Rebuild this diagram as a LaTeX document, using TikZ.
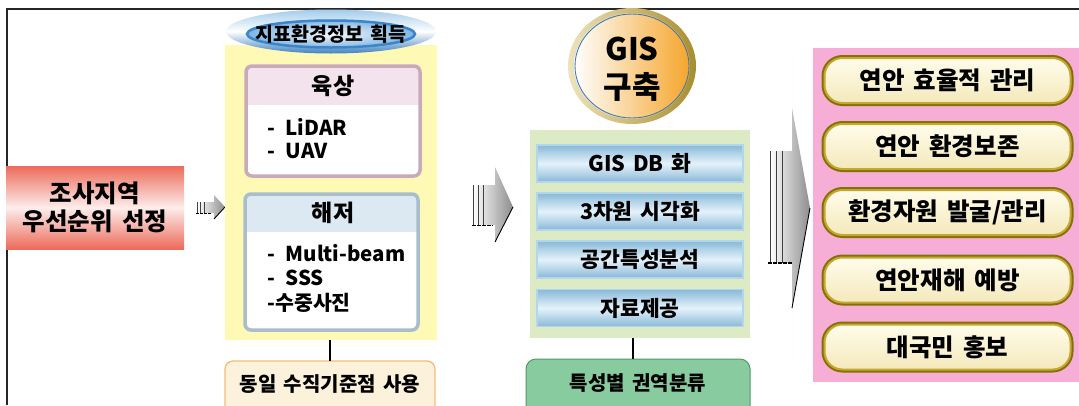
\documentclass[tikz,border=0pt]{standalone}
\usepackage{fontspec}
\setmainfont{Noto Sans CJK KR}[WordSpace=1.6]
\usetikzlibrary{shapes.geometric,calc}
\definecolor{redbox}{HTML}{EC6B5A}
\definecolor{yelpanel}{HTML}{FFF9B6}
\definecolor{pinkhead}{HTML}{F3E3EC}
\definecolor{pinkrim}{HTML}{C9A9BA}
\definecolor{bluehead}{HTML}{DCE9F3}
\definecolor{bluerim}{HTML}{A9BDCB}
\definecolor{creambox}{HTML}{FCF1DA}
\definecolor{orangerim}{HTML}{F3BD78}
\definecolor{greenpanel}{HTML}{DDEBC4}
\definecolor{barblue}{HTML}{88B9D9}
\definecolor{barlight}{HTML}{E6F2FA}
\definecolor{barrim}{HTML}{B3D6EC}
\definecolor{greenbox}{HTML}{87CB9E}
\definecolor{greenrim}{HTML}{4F9A6A}
\definecolor{pinkpanel}{HTML}{F6AED6}
\definecolor{goldrim}{HTML}{C4A832}
\definecolor{golddark}{HTML}{857005}
\definecolor{creamtop}{HTML}{FFFCEA}
\definecolor{creambot}{HTML}{F4E9BC}
\definecolor{goldL}{HTML}{EEE3BC}
\definecolor{goldD}{HTML}{A68E2E}
\definecolor{orangeR}{HTML}{F5A52A}
\definecolor{ringblue}{HTML}{3A78B8}
\definecolor{elltop}{HTML}{A3CCEB}
\definecolor{ellbot}{HTML}{3F82C2}
\definecolor{ellrim}{HTML}{3A86CC}
\definecolor{ellin}{HTML}{F4F9FD}
\definecolor{ellout}{HTML}{7DB3E0}
\begin{document}
\begin{tikzpicture}[x=1pt,y=-1pt,
  bf/.style={font=\bfseries\fontsize{#1}{#1}\selectfont},
  panel/.style={inner sep=0pt, outer sep=0pt},
  barbox/.style={panel, minimum width=206pt, minimum height=37pt,
    top color=barblue, bottom color=barblue, middle color=barlight,
    draw=barrim, line width=1.5pt, bf=21.5},
  pill/.style={panel, rounded corners=18pt, minimum width=246pt, minimum height=45pt,
    top color=creamtop, bottom color=creambot,
    preaction={draw=golddark, line width=6pt},
    draw=goldrim, line width=2pt, bf=24.5},
  link/.style={draw=black, line width=2pt},
  arrbody/.style={left color=white, right color=black!45},
  arredge/.style={draw=black, line width=0.9pt},
  arrline/.style={draw=black!75, line width=0.6pt}
]
\useasboundingbox (0,0) rectangle (1079,405);
\clip (0,0) rectangle (1079,405);
\fill[white] (0,0) rectangle (1079,405);
% outer frame
\draw[line width=1.3pt, black!85] (7,405) -- (7,9) -- (1079,9);

% left start box
\node[panel, minimum width=178pt, minimum height=83pt, top color=redbox, bottom color=redbox,
  middle color=white!88!redbox, align=center, font=\bfseries\fontsize{24.5}{28}\selectfont]
  (start) at (95,207.5) {조사지역\\우선순위 선정};

% arrow 1
\shade[arrbody] (197,202) -- (214,202) -- (214,195) -- (225,207) -- (214,219) -- (214,213) -- (197,213) -- cycle;
\draw[arredge] (225,207) -- (214,219);
\foreach \xx in {197,200.5,204} \draw[arrline] (\xx,202) -- (\xx,213);
\draw[black, line width=1pt, dash pattern=on 3pt off 1pt] (196,213) -- (212,213);

% yellow panel
\node[panel, fill=yelpanel, minimum width=212pt, minimum height=295pt] (yp) at (331,192.5) {};
% top ellipse
\shade[top color=elltop, bottom color=ellbot, middle color=white] (331,31.5) ellipse [x radius=105pt, y radius=22pt];
\shade[inner color=ellin, outer color=ellout] (331,34) ellipse [x radius=85pt, y radius=14.5pt];
\draw[ellrim, line width=2.5pt] (331,34) ellipse [x radius=84pt, y radius=13.5pt];
\node[bf=19.5] (ytitle) at (331,34) {지표환경정보 획득};

% 육상 box
\fill[white] (246,66) rectangle (420,176);
\fill[pinkhead] (246,66) rectangle (420,105);
\draw[pinkrim, line width=3.5pt, rounded corners=6pt] (246,66) rectangle (420,176);
\node[bf=23] (landt) at (333,86) {육상};
\node[bf=20.5, anchor=west] (lidar) at (264,127) {-\hspace{0.5em}LiDAR};
\node[bf=20.5, anchor=west] (uav) at (264,151) {-\hspace{0.5em}UAV};

% 해저 box
\fill[white] (245,194) rectangle (418,330);
\fill[bluehead] (245,194) rectangle (418,232);
\draw[bluerim, line width=3.5pt, rounded corners=6pt] (245,194) rectangle (418,330);
\node[bf=23] (seat) at (333,213) {해저};
\node[bf=20.5, anchor=west] (mb) at (264,253) {-\hspace{0.5em}Multi-beam};
\node[bf=20.5, anchor=west] (sss) at (264,278) {-\hspace{0.5em}SSS};
\node[bf=20.5, anchor=west] (photo) at (264,303) {-수중사진};

% bottom box 1
\node[panel, minimum width=210pt, minimum height=58pt, fill=creambox, draw=orangerim,
  line width=1.3pt, rounded corners=8pt] (vb) at (330,390) {};
\node[bf=20] (vbt) at (330,384) {동일 수직기준점 사용};
\draw[link] (yp.south -| vb.north) -- (vb.north);

% arrow 2
\shade[arrbody] (473,185) -- (495,185) -- (495,167) -- (513,207) -- (495,242) -- (495,225) -- (473,225) -- cycle;
\draw[arredge] (513,207) -- (495,242);
\foreach \xx in {473,478,483} \draw[arrline] (\xx,185) -- (\xx,225);
\draw[black, line width=1pt, dash pattern=on 4pt off 1pt] (472,225) -- (493,225);

% GIS circle
\shade[left color=goldL, right color=goldD] (632,66) ellipse [x radius=64pt, y radius=58pt];
\shade[left color=white, right color=orangeR] (632,66) ellipse [x radius=58pt, y radius=53pt];
\draw[ringblue, line width=0.9pt] (632,66) ellipse [x radius=57pt, y radius=52pt];
\node[align=center, font=\bfseries\fontsize{31}{38}\selectfont] (gis) at (632,69) {GIS\\구축};

% green panel
\node[panel, fill=greenpanel, minimum width=220pt, minimum height=208pt] (gp) at (640,234) {};
\node[barbox] (b1) at (640,163.5) {GIS DB 화};
\node[barbox] (b2) at (640,211.5) {3차원 시각화};
\node[barbox] (b3) at (640,259.5) {공간특성분석};
\node[barbox] (b4) at (640,308) {자료제공};

% bottom box 2
\node[panel, minimum width=224pt, minimum height=60pt, fill=greenbox, draw=greenrim,
  line width=1pt, rounded corners=10pt] (cb) at (638,389) {};
\node[bf=20] (cbt) at (638,383) {특성별 권역분류};
\draw[link] (gp.south -| b4.south) ++(-7,0) coordinate (gl) (gl) -- (gl |- cb.north);

% arrow 3
\shade[arrbody] (770,151) -- (792,151) -- (792,108) -- (810,208) -- (792,308) -- (792,263) -- (770,263) -- cycle;
\draw[arredge] (810,208) -- (792,308);
\foreach \xx in {770,776,782} \draw[arrline] (\xx,151) -- (\xx,263);
\draw[black, line width=1.3pt, dash pattern=on 4pt off 1pt] (768,263) -- (792,263);

% pink panel
\node[panel, fill=pinkpanel, minimum width=266pt, minimum height=334pt] (pp) at (946,215) {};
\node[pill] (p1) at (947.5,80.5) {연안 효율적 관리};
\node[pill] (p2) at (947.5,146.5) {연안 환경보존};
\node[pill] (p3) at (947.5,212.5) {환경자원 발굴/관리};
\node[pill] (p4) at (947.5,280) {연안재해 예방};
\node[pill] (p5) at (947.5,347) {대국민 홍보};
\end{tikzpicture}
\end{document}
